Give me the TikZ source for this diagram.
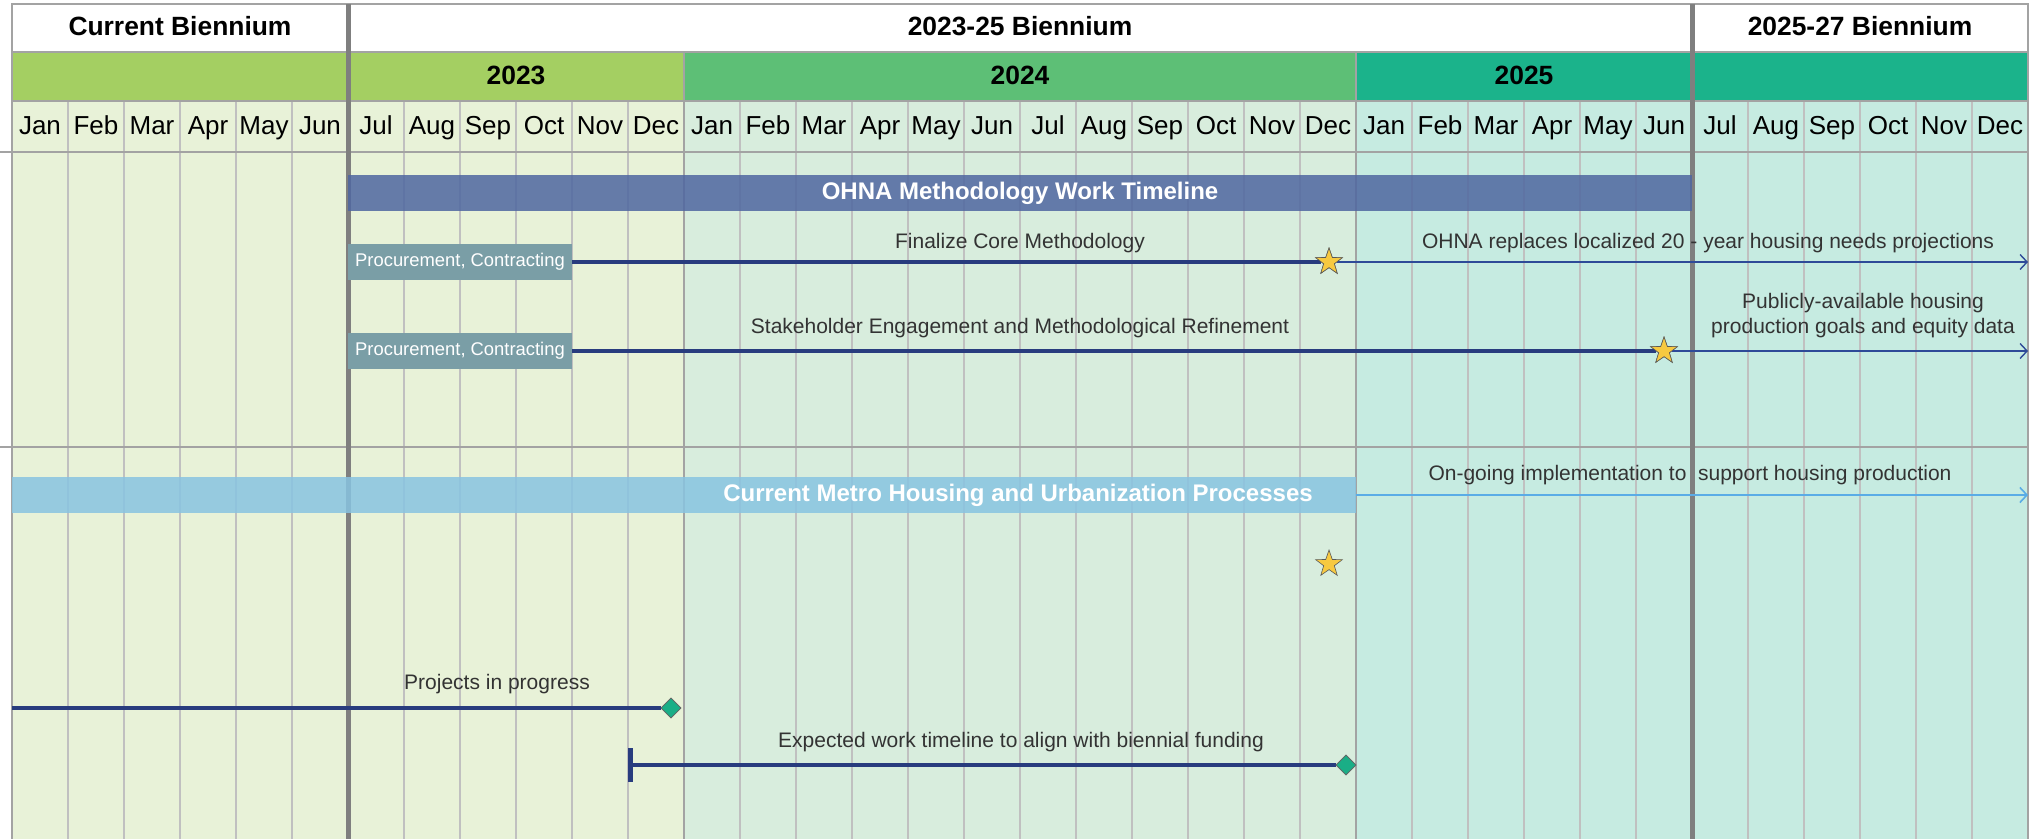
\documentclass[tikz,border=0pt]{standalone}
\usepackage{fontspec}
\setmainfont{Liberation Sans}
\usetikzlibrary{shapes.geometric,arrows.meta}

\definecolor{yrgreen}{HTML}{A4CF62}
\definecolor{yrmid}{HTML}{5DBF76}
\definecolor{yrteal}{HTML}{1BB38B}
\definecolor{bggreen}{HTML}{E8F2D8}
\definecolor{bgmid}{HTML}{D8EDDD}
\definecolor{bgteal}{HTML}{C6EBE1}
\definecolor{gridgray}{HTML}{C0C0C0}
\definecolor{rulegray}{HTML}{A3A3A3}
\definecolor{thickgray}{HTML}{7F7F7F}
\definecolor{navy}{HTML}{283C7E}
\definecolor{ohnablue}{HTML}{4F67A0}
\definecolor{metroblue}{HTML}{88C4E1}
\definecolor{procgray}{HTML}{7A9EA6}
\definecolor{arrowblue}{HTML}{2E4A98}
\definecolor{lightarrow}{HTML}{5AACE6}
\definecolor{staryellow}{HTML}{F7C940}
\definecolor{diamgreen}{HTML}{1AAE86}
\definecolor{textgray}{HTML}{333333}

\tikzset{
  monthlbl/.style={font=\fontsize{13}{15}\selectfont, inner sep=0pt, anchor=base},
  headlbl/.style={font=\bfseries\fontsize{13.2}{15}\selectfont, inner sep=0pt, anchor=base},
  phasebar/.style={minimum width=672pt, minimum height=18pt, inner sep=0pt, fill opacity=0.85, text opacity=1, text=white, font=\bfseries\fontsize{12}{14}\selectfont},
  procbox/.style={fill=procgray, text=white, minimum width=112pt, minimum height=18pt, inner sep=0pt, font=\fontsize{9.2}{11}\selectfont},
  tasklbl/.style={font=\fontsize{10.5}{12.5}\selectfont, text=textgray, inner sep=0pt, align=center},
  taskline/.style={navy, line width=2.4pt},
  nextline/.style={->, arrowblue, line width=0.7pt},
  starmark/.style={star, star points=5, star point ratio=2.5, minimum size=14pt, inner sep=0pt, fill=staryellow, draw=black!65, line width=0.3pt},
  endmark/.style={diamond, minimum width=10pt, minimum height=10pt, inner sep=0pt, fill=diamgreen, draw=black!60, line width=0.3pt},
}

\begin{document}
\begin{tikzpicture}[x=0.5pt, y=-0.5pt, >={Straight Barb[length=3.5pt,width=7.5pt]}]
\useasboundingbox (0,0) rectangle (2033,839);
\fill[white] (0,0) rectangle (2033,839);

% year row and column backgrounds
\fill[yrgreen] (12,52) rectangle (684,101);
\fill[yrmid] (684,52) rectangle (1356,101);
\fill[yrteal] (1356,52) rectangle (2028,101);
\fill[bggreen] (12,101) rectangle (684,839);
\fill[bgmid] (684,101) rectangle (1356,839);
\fill[bgteal] (1356,101) rectangle (2028,839);

% month grid
\foreach \i in {1,...,35}
  \draw[gridgray, line width=0.6pt] ({12+56*\i},101) -- ({12+56*\i},839);
\draw[rulegray, line width=1pt] (684,52) -- (684,839);
\draw[rulegray, line width=1pt] (1356,52) -- (1356,839);
\draw[rulegray, line width=1pt] (12,4) rectangle (2028,52);
\draw[rulegray, line width=1pt] (12,52) -- (12,839);
\draw[rulegray, line width=1pt] (2028,52) -- (2028,839);
\draw[rulegray, line width=1pt] (12,101) -- (2028,101);
\draw[rulegray, line width=1pt] (0,152) -- (2028,152);
\draw[rulegray, line width=1pt] (0,447) -- (2028,447);
\draw[thickgray, line width=2.5pt] (348,4) -- (348,839);
\draw[thickgray, line width=2.5pt] (1692,4) -- (1692,839);

% headers
\node[headlbl] (cur) at (180,36) {Current Biennium};
\node[headlbl] (bien1) at (1020,36) {2023-25 Biennium};
\node[headlbl] (bien2) at (1860,36) {2025-27 Biennium};
\node[headlbl] (y2023) at (516,85) {2023};
\node[headlbl] (y2024) at (1020,85) {2024};
\node[headlbl] (y2025) at (1524,85) {2025};
\foreach \yr in {0,1,2}
  \foreach \m [count=\k from 0] in {Jan,Feb,Mar,Apr,May,Jun,Jul,Aug,Sep,Oct,Nov,Dec}
    \node[monthlbl] (m\yr-\k) at ({40+56*(12*\yr+\k)},135) {\m};

% OHNA methodology
\node[phasebar, fill=ohnablue] (ohna) at (1020,193) {OHNA Methodology Work Timeline};
\node[procbox] (proc1) at (460,262) {Procurement, Contracting};
\node[procbox] (proc2) at (460,351) {Procurement, Contracting};
\node[starmark] (star1) at (1329,262) {};
\node[starmark] (star2) at (1664,351) {};
\coordinate (end1) at (2028,262);
\coordinate (end2) at (2028,351);
\draw[taskline] (proc1.east) -- (star1);
\draw[taskline] (proc2.east) -- (star2);
\draw[nextline] (star1) -- (end1);
\draw[nextline] (star2) -- (end2);
\node[starmark] at (star1) {};
\node[starmark] at (star2) {};
\node[tasklbl, anchor=base] (core) at (1020,249) {Finalize Core Methodology};
\node[tasklbl, anchor=base] (replace) at (1708,249) {OHNA replaces localized 20 - year housing needs projections};
\node[tasklbl, anchor=base] (refine) at (1020,334) {Stakeholder Engagement and Methodological Refinement};
\node[tasklbl] (goals) at (1863,316) {Publicly-available housing\\production goals and equity data};

% metro processes
\node[phasebar, fill=metroblue] (metro) at (684,495) {};
\node[font=\bfseries\fontsize{12}{14}\selectfont, text=white, inner sep=0pt] (metrotxt) at (1018,495) {Current Metro Housing and Urbanization Processes};
\coordinate (end3) at (2028,495);
\draw[->, lightarrow, line width=0.8pt] (metro.east) -- (end3);
\node[tasklbl, anchor=base] (ongoing) at (1690,480) {On-going implementation to~ support housing production};
\node[starmark] (star3) at (1329,564) {};

\coordinate (start4) at (12,708);
\node[endmark] (dia1) at (671,708) {};
\draw[taskline] (start4) -- (dia1);
\node[endmark] at (dia1) {};
\node[tasklbl, anchor=base] (inprog) at (497,689) {Projects in progress};

\coordinate (start5) at (628,765);
\node[endmark] (dia2) at (1346,765) {};
\draw[taskline, {Bar[width=17pt]}-] (start5) -- (dia2);
\node[endmark] at (dia2) {};
\node[tasklbl, anchor=base] (funding) at (1021,747) {Expected work timeline to align with biennial funding};

\end{tikzpicture}
\end{document}
